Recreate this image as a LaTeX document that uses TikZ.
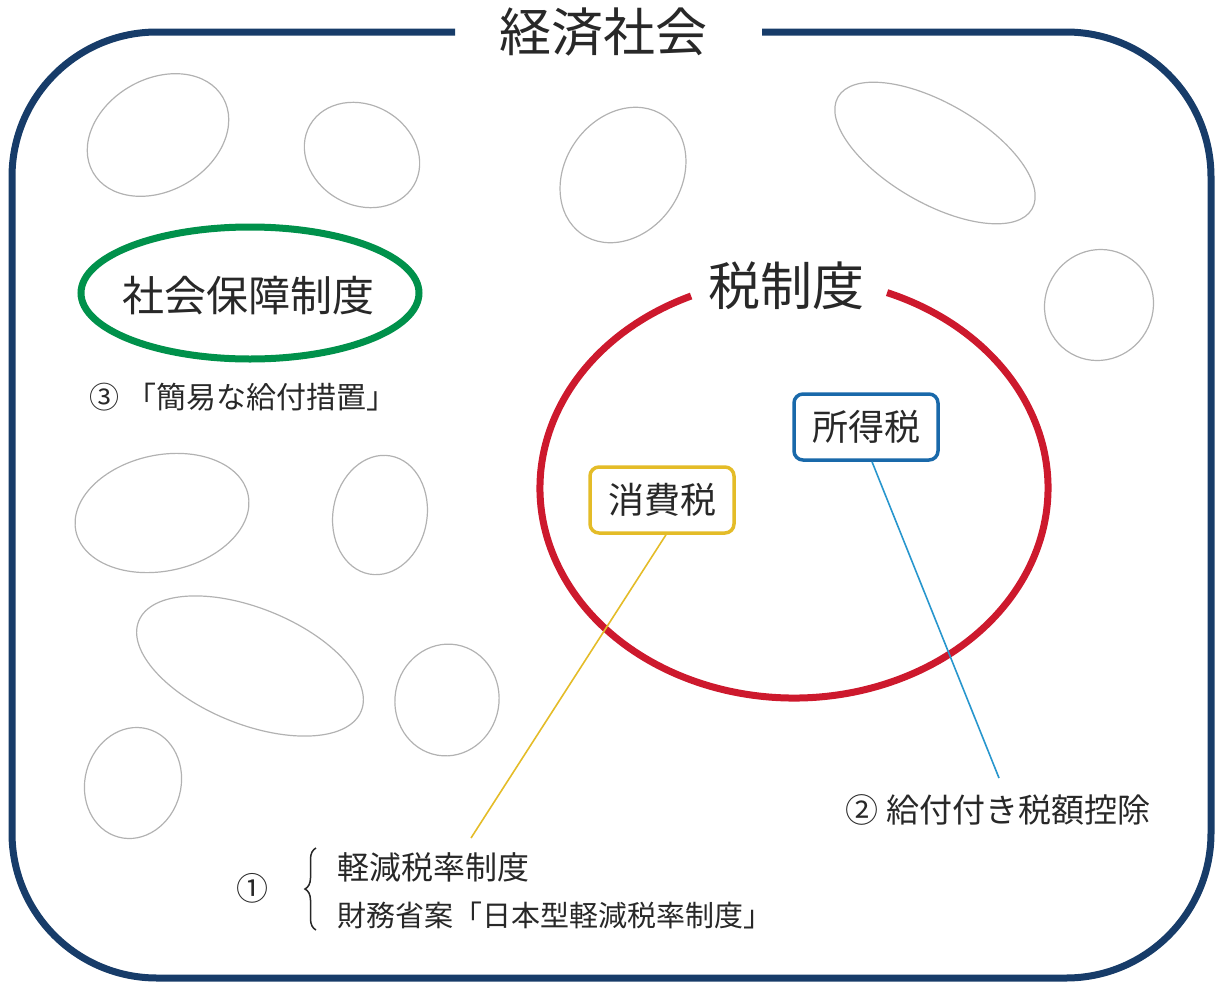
\documentclass[tikz,border=0pt]{standalone}
\usepackage{fontspec}
\newfontfamily\jp{Noto Sans CJK JP}
\usetikzlibrary{shapes.geometric,decorations.pathreplacing}
\definecolor{framenavy}{RGB}{23,60,105}
\definecolor{sgreen}{RGB}{0,145,75}
\definecolor{tred}{RGB}{205,25,45}
\definecolor{bbox}{RGB}{25,105,170}
\definecolor{ybox}{RGB}{228,188,40}
\definecolor{cline}{RGB}{40,150,205}
\definecolor{txt}{RGB}{40,40,40}
\definecolor{ell}{RGB}{178,178,178}
\tikzset{
  jptext/.style={font=\jp, text=txt, inner sep=0pt},
  grayell/.style={draw=ell, line width=1.2pt},
  taxbox/.style={draw, line width=3.5pt, rounded corners=9pt, fill=white, minimum width=144pt, minimum height=66pt, inner sep=0pt, font=\jp\fontsize{36}{40}\selectfont, text=txt},
  conn/.style={line width=1.6pt},
}
\begin{document}
\begin{tikzpicture}[x=1pt,y=1pt]
\useasboundingbox (0,0) rectangle (1216,-983);
% outer frame
\draw[framenavy, line width=7pt, rounded corners=145pt] (455,-32) -- (12,-32) -- (12,-978) -- (1211,-978) -- (1211,-32) -- (762,-32);
\node[jptext, font=\jp\fontsize{52}{60}\selectfont] (title) at (603,-32) {経済社会};
% gray ellipses
\foreach \cx/\cy/\rx/\ry/\ang in {158/135/75/56/30, 362/155/60/50/-30, 623/175/72/58/55, 935/153/112/50/-30, 1099/305/56/54/60, 162/513/88/58/12, 380/515/47/60/-10, 250/666/120/58/-22, 447/700/52/56/-10, 133/783/48/56/-15}
  \draw[grayell, rotate around={\ang:(\cx,-\cy)}] (\cx,-\cy) ellipse [x radius=\rx, y radius=\ry];
% social security
\draw[sgreen, line width=7pt] (250,-293) ellipse [x radius=169, y radius=66];
\node[jptext, font=\jp\fontsize{42}{46}\selectfont] (shakai) at (248,-296) {社会保障制度};
\node[jptext, font=\jp\fontsize{30}{34}\selectfont] (kani) at (243,-397) {③ 「簡易な給付措置」};
% tax system
\draw[tred, line width=7pt] (794,-488) ++(113.9:254 and 210) arc [start angle=113.9, end angle=428.5, x radius=254, y radius=210];
\node[jptext, font=\jp\fontsize{52}{60}\selectfont] (zei) at (786,-286) {税制度};
\node[taxbox, draw=bbox] (shotoku) at (866,-427) {所得税};
\node[taxbox, draw=ybox] (shohi) at (662,-500) {消費税};
% connectors
\coordinate (yend) at (471,-838);
\coordinate (bend) at (999,-778);
\draw[conn, ybox] ([xshift=4pt]shohi.south) -- (yend);
\draw[conn, cline] ([xshift=6pt]shotoku.south) -- (bend);
% labels
\node[jptext, font=\jp\fontsize{33}{38}\selectfont] (kyufu) at (998,-810) {② 給付付き税額控除};
\node[jptext, font=\jp\fontsize{32}{36}\selectfont] (c1) at (252,-888) {①};
\draw[txt, line width=1.5pt, decorate, decoration={brace, amplitude=11pt}] (316,-930) -- (316,-848);
\node[jptext, anchor=west, font=\jp\fontsize{32}{36}\selectfont] (keigen) at (337,-867) {軽減税率制度};
\node[jptext, anchor=west, font=\jp\fontsize{29}{33}\selectfont] (zaimu) at (337,-915) {財務省案「日本型軽減税率制度」};
\end{tikzpicture}
\end{document}
